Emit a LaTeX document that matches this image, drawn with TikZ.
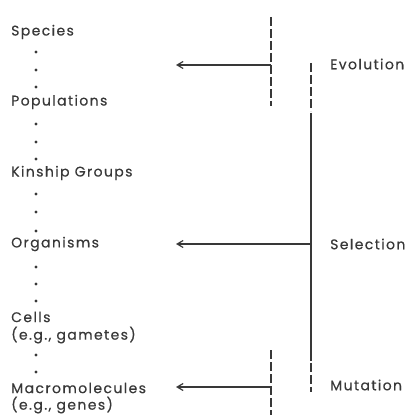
\documentclass[tikz,border=0pt]{standalone}
\usepackage{fontspec}
\setmainfont{Poppins}[LetterSpace=10,FakeBold=0.4]
\usetikzlibrary{arrows.meta}
\definecolor{ink}{HTML}{383838}
\begin{document}
\begin{tikzpicture}[x=1pt,y=-1pt,
  lvl/.style={anchor=west,inner sep=0pt,text=ink,font=\fontsize{14}{16}\selectfont},
  proc/.style={anchor=west,inner sep=0pt,text=ink,font=\fontsize{14}{16}\selectfont},
  arr/.style={draw=ink,line width=1.2pt,-{Straight Barb[length=6pt,width=7pt]}},
  solidbar/.style={draw=ink,line width=1.2pt},
  dashbar/.style={draw=ink,line width=1.2pt,dash pattern=on 9pt off 3pt},
  dotmark/.style={circle,fill=ink,inner sep=0pt,minimum size=3.4pt}]
\useasboundingbox (0,0) rectangle (408,419);
% levels
\node[lvl] (species) at (11,32) {Species};
\node[lvl] (pop) at (11,102) {Populations};
\node[lvl] (kin) at (11,173) {Kinship Groups};
\node[lvl] (org) at (11,244) {Organisms};
\node[lvl] (cells) at (11,317) {Cells};
\node[lvl] (cellsx) at (11,335) {(e.g., gametes)};
\node[lvl] (macro) at (11,388) {Macromolecules};
\node[lvl] (macrox) at (11,405) {(e.g., genes)};
% dots
\foreach \y in {52,70,87,124,142,159,194,212,231,267,284,301,355,372}
  \node[dotmark] at (36,\y) {};
% processes
\node[proc] (evo) at (330,64) {Evolution};
\node[proc] (sel) at (330,244) {Selection};
\node[proc] (mut) at (330,385) {Mutation};
% bars
\coordinate (eTop) at (271,17);
\coordinate (eBot) at (271,106);
\coordinate (eJ) at (271,65);
\coordinate (eTip) at (176,65);
\draw[dashbar] (eTop) -- (eBot);
\coordinate (sTop) at (311,63);
\coordinate (sA) at (311,111);
\coordinate (sB) at (311,361);
\coordinate (sBot) at (311,392);
\coordinate (sJ) at (311,244);
\coordinate (sTip) at (176,244);
\draw[dashbar] (sTop) -- (sA);
\draw[solidbar] (sA) ++(0,2) -- (sB);
\draw[dashbar] (sB) ++(0,2) -- (sBot);
\coordinate (mTop) at (271,350);
\coordinate (mBot) at (271,415);
\coordinate (mJ) at (271,387);
\coordinate (mTip) at (176,387);
\draw[dashbar] (mTop) -- (mBot);
% arrows
\draw[arr] (eJ) -- (eTip);
\draw[arr] (sJ) -- (sTip);
\draw[arr] (mJ) -- (mTip);
\end{tikzpicture}
\end{document}
